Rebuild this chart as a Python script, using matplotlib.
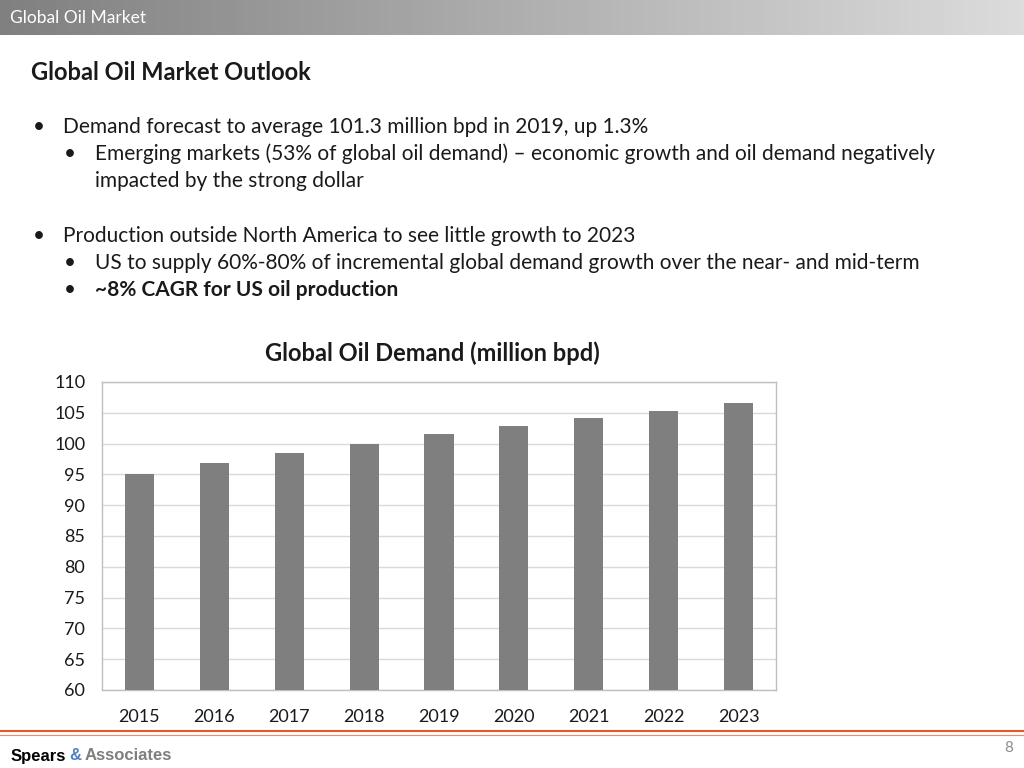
import numpy as np
import matplotlib.pyplot as plt

years = ["2015", "2016", "2017", "2018", "2019", "2020", "2021", "2022", "2023"]
demand = [95.0, 96.9, 98.4, 100.0, 101.6, 102.9, 104.1, 105.3, 106.6]
y_ticks = [60, 65, 70, 75, 80, 85, 90, 95, 100, 105, 110]

W, H = 1024, 768
FONT = ["Lato", "DejaVu Sans"]
plt.rcParams["font.family"] = FONT


def px(x, y):
    """pixel coords (from top-left) -> figure fraction"""
    return x / W, 1 - y / H


fig = plt.figure(figsize=(W / 100, H / 100), dpi=100)

# header band with grey gradient
hdr = fig.add_axes([0, 1 - 35 / H, 1, 35 / H])
grad = np.linspace(0.50, 0.86, 256).reshape(1, -1)
hdr.imshow(grad, aspect="auto", cmap="gray", vmin=0, vmax=1, extent=[0, 1, 0, 1])
hdr.set_axis_off()
fig.text(*px(10, 18), "Global Oil Market", color="white", fontsize=12.5, va="center")

# title and bullets
fig.text(*px(31, 72), "Global Oil Market Outlook", fontsize=17, fontweight="bold",
         va="center", color="#1a1a1a")

lines = [
    (33, 63, 127, "Demand forecast to average 101.3 million bpd in 2019, up 1.3%", "normal", True),
    (64, 95, 154, "Emerging markets (53% of global oil demand) \u2013 economic growth and oil demand negatively", "normal", True),
    (64, 95, 181, "impacted by the strong dollar", "normal", False),
    (33, 63, 236, "Production outside North America to see little growth to 2023", "normal", True),
    (64, 95, 263, "US to supply 60%-80% of incremental global demand growth over the near- and mid-term", "normal", True),
    (64, 95, 290, "~8% CAGR for US oil production", "bold", True),
]
for bx, tx, ty, txt, wt, bullet in lines:
    if bullet:
        fig.text(*px(bx, ty), "\u2022", fontsize=15, va="center", color="#1a1a1a")
    fig.text(*px(tx, ty), txt, fontsize=15, fontweight=wt, va="center", color="#1a1a1a")

# chart
ax = fig.add_axes([102 / W, (H - 690) / H, 674 / W, 308 / H])
x = np.arange(len(years))
ax.bar(x, demand, width=0.39, color="#7f7f7f", zorder=3)
ax.set_ylim(60, 110)
ax.set_xlim(-0.5, len(years) - 0.5)
ax.set_yticks(y_ticks)
ax.set_yticklabels([str(v) for v in y_ticks], fontsize=13)
ax.set_xticks(x)
ax.set_xticklabels(years, fontsize=13)
ax.tick_params(axis="both", length=0, colors="#1a1a1a")
ax.tick_params(axis="y", pad=12)
ax.tick_params(axis="x", pad=14)
ax.grid(axis="y", color="#d9d9d9", lw=1, zorder=0)
for s in ax.spines.values():
    s.set_color("#bfbfbf")
    s.set_linewidth(1)
fig.text(*px(432, 353), "Global Oil Demand (million bpd)", fontsize=17, fontweight="bold",
         ha="center", va="center", color="#1a1a1a")

# footer
fig.add_artist(plt.Line2D([0, 1], [1 - 731 / H] * 2, color="#e2582e", lw=1.5))
fig.add_artist(plt.Line2D([0, 1], [1 - 735 / H] * 2, color="#ec8a6a", lw=0.8))
NARROW = ["Liberation Sans Narrow", "Liberation Sans", "DejaVu Sans"]
t1 = fig.text(*px(11, 756), "Spears", fontsize=12, fontweight="bold", family=NARROW,
              va="center", color="black")
fig.canvas.draw()
rend = fig.canvas.get_renderer()
bb = t1.get_window_extent(renderer=rend)
t2 = fig.text((bb.x1 + 3) / W, 1 - 756 / H, "&", fontsize=12, fontweight="bold", family=NARROW,
              va="center", color="#4f81bd")
bb2 = t2.get_window_extent(renderer=rend)
fig.text((bb2.x1 + 3) / W, 1 - 756 / H, "Associates", fontsize=12, fontweight="bold",
         family=NARROW, va="center", color="#7f7f7f")
fig.text(*px(1013, 748), "8", fontsize=11, color="#8c8c8c", ha="right", va="center")

fig.savefig("out.png", dpi=100)
